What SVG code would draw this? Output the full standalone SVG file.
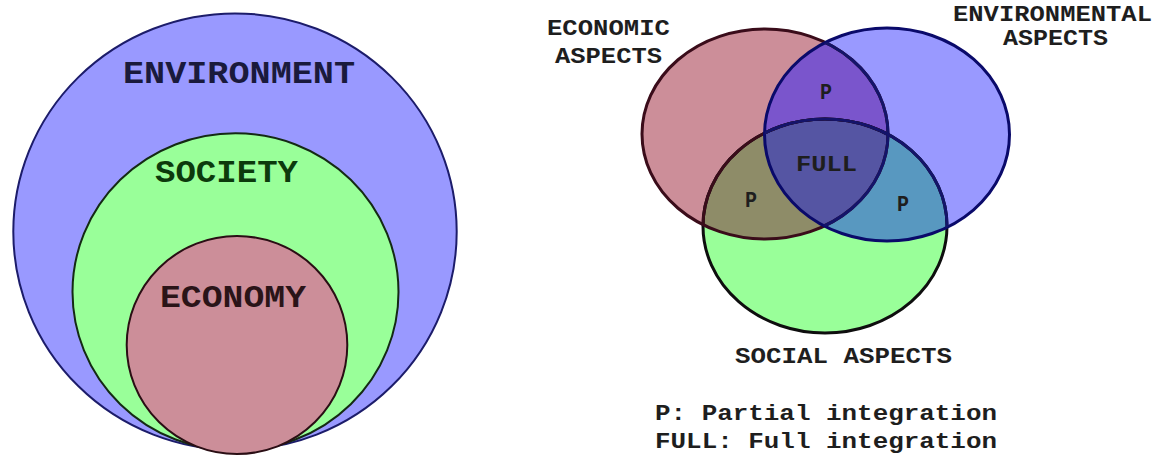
<svg xmlns="http://www.w3.org/2000/svg" width="1159" height="455" viewBox="0 0 1159 455">
<style>
text{font-family:"Liberation Mono","Courier New",monospace;font-weight:bold;}
.big{font-size:32px;}
.sm{font-size:22px;fill:#1e1e1e;}
.econ{fill:#CC8E99;}
.env{fill:#9999FF;}
.soc{fill:#99FF99;}
</style>
<defs>
<clipPath id="cEcon"><ellipse cx="765" cy="134" rx="123" ry="105"/></clipPath>
<clipPath id="cEnv"><ellipse cx="887" cy="134.5" rx="122.5" ry="106.5"/></clipPath>
<clipPath id="cSoc"><ellipse cx="825" cy="226" rx="122" ry="107"/></clipPath>
</defs>
<rect width="1159" height="455" fill="#ffffff"/>

<!-- Left nested diagram -->
<g id="environment">
<ellipse class="env" cx="235" cy="231.7" rx="221.7" ry="218.3" stroke="#1c1c6a" stroke-width="2"/>
<text class="big" x="123" y="83" textLength="232" lengthAdjust="spacingAndGlyphs" fill="#1a1a3c">ENVIRONMENT</text>
</g>
<g id="society">
<ellipse class="soc" cx="235.5" cy="292" rx="163" ry="158.7" stroke="#142a14" stroke-width="2"/>
<text class="big" x="155" y="182" textLength="143" lengthAdjust="spacingAndGlyphs" fill="#0c3a0c">SOCIETY</text>
</g>
<g id="economy">
<ellipse class="econ" cx="237" cy="345" rx="110.3" ry="109" stroke="#2a0e14" stroke-width="2"/>
<text class="big" x="160" y="307" textLength="146" lengthAdjust="spacingAndGlyphs" fill="#2a1418">ECONOMY</text>
</g>

<!-- Right Venn diagram -->
<g id="economic-aspects">
<ellipse class="econ" cx="765" cy="134" rx="123" ry="105"/>
</g>
<g id="environmental-aspects">
<ellipse class="env" cx="887" cy="134.5" rx="122.5" ry="106.5"/>
</g>
<g id="social-aspects">
<ellipse class="soc" cx="825" cy="226" rx="122" ry="107"/>
</g>
<g id="overlaps">
<ellipse cx="887" cy="134.5" rx="122.5" ry="106.5" fill="#7A55CC" clip-path="url(#cEcon)"/>
<ellipse cx="825" cy="226" rx="122" ry="107" fill="#8E8C68" clip-path="url(#cEcon)"/>
<ellipse cx="825" cy="226" rx="122" ry="107" fill="#5898C0" clip-path="url(#cEnv)"/>
<g clip-path="url(#cEcon)">
<ellipse cx="825" cy="226" rx="122" ry="107" fill="#5555A3" clip-path="url(#cEnv)"/>
</g>
</g>
<g id="outlines" fill="none" stroke-width="3">
<ellipse cx="825" cy="226" rx="122" ry="107" stroke="#0e0e0e"/>
<ellipse cx="825" cy="226" rx="122" ry="107" stroke="#3a0c1a" clip-path="url(#cEcon)"/>
<ellipse cx="765" cy="134" rx="123" ry="105" stroke="#3a0c1a"/>
<ellipse cx="887" cy="134.5" rx="122.5" ry="106.5" stroke="#0a0a6a"/>
<g clip-path="url(#cEnv)">
<ellipse cx="825" cy="226" rx="122" ry="107" stroke="#14146a"/>
<ellipse cx="765" cy="134" rx="123" ry="105" stroke="#14146a"/>
</g>
</g>
<g id="labels">
<text class="sm" x="547" y="35" textLength="123" lengthAdjust="spacingAndGlyphs">ECONOMIC</text>
<text class="sm" x="555" y="63" textLength="107" lengthAdjust="spacingAndGlyphs">ASPECTS</text>
<text class="sm" x="953" y="21" textLength="199" lengthAdjust="spacingAndGlyphs">ENVIRONMENTAL</text>
<text class="sm" x="1003" y="45" textLength="105" lengthAdjust="spacingAndGlyphs">ASPECTS</text>
<text class="sm" x="820" y="99" textLength="12" lengthAdjust="spacingAndGlyphs">P</text>
<text class="sm" x="796" y="171" textLength="61" lengthAdjust="spacingAndGlyphs">FULL</text>
<text class="sm" x="745" y="207" textLength="12" lengthAdjust="spacingAndGlyphs">P</text>
<text class="sm" x="897" y="211" textLength="12" lengthAdjust="spacingAndGlyphs">P</text>
<text class="sm" x="735" y="363" textLength="217" lengthAdjust="spacingAndGlyphs">SOCIAL ASPECTS</text>
<text class="sm" x="655" y="420" textLength="342" lengthAdjust="spacingAndGlyphs">P: Partial integration</text>
<text class="sm" x="655" y="448" textLength="342" lengthAdjust="spacingAndGlyphs">FULL: Full integration</text>
</g>
</svg>
